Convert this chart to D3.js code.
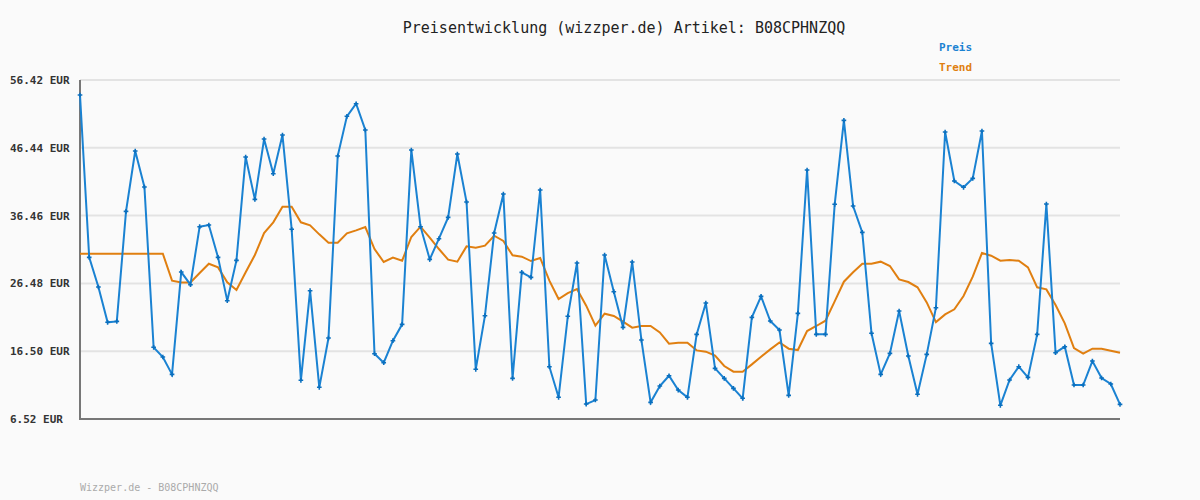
<!DOCTYPE html>
<html><head><meta charset="utf-8">
<script src="https://cdn.jsdelivr.net/npm/d3@7"></script>
<style>body{margin:0;background:#fafafa}text{font-family:"DejaVu Sans Mono",monospace}</style>
</head><body><svg id="c" width="1200" height="500"></svg>
<script>
const preis=[54.21,30.31,25.95,20.75,20.89,37.08,45.97,40.67,17.07,15.64,13.09,28.15,26.29,34.83,35.07,30.31,23.94,29.87,45.08,38.85,47.73,42.63,48.32,34.44,12.21,25.41,11.18,18.44,45.23,51.07,52.93,49.06,16.13,14.81,18.05,20.45,46.12,34.83,30.02,33.06,36.2,45.52,38.46,13.83,21.73,33.9,39.64,12.5,28.1,27.37,40.23,14.22,9.71,21.63,29.48,8.72,9.31,30.66,25.26,20.01,29.63,18.14,8.97,11.37,12.89,10.78,9.71,18.98,23.59,13.97,12.5,11.03,9.56,21.48,24.57,20.94,19.62,10.0,22.07,43.17,18.98,18.98,38.12,50.48,37.87,33.99,19.13,13.09,16.18,22.42,15.79,10.15,16.03,22.9,48.76,41.55,40.62,41.94,48.91,17.65,8.53,12.26,14.22,12.65,18.98,38.17,16.28,17.16,11.52,11.52,15.05,12.55,11.67,8.67];
const trend=[30.85,30.85,30.85,30.85,30.85,30.85,30.85,30.85,30.85,30.85,26.88,26.63,26.63,28.01,29.38,28.84,26.63,25.51,28.11,30.66,33.9,35.47,37.77,37.77,35.47,35.03,33.7,32.47,32.47,33.85,34.29,34.78,31.54,29.63,30.27,29.82,33.31,34.83,33.21,31.54,29.97,29.68,31.93,31.74,32.03,33.5,32.72,30.61,30.41,29.77,30.22,26.88,24.18,25.06,25.65,23.2,20.26,22.02,21.68,20.84,19.96,20.21,20.21,19.27,17.6,17.75,17.75,16.62,16.43,15.84,14.32,13.48,13.48,14.56,15.69,16.77,17.8,16.87,16.67,19.47,20.21,20.99,23.84,26.73,28.11,29.38,29.38,29.68,29.04,27.07,26.68,25.9,23.69,20.79,21.92,22.66,24.62,27.47,30.95,30.56,29.82,29.92,29.82,28.84,25.9,25.6,23.3,20.6,16.97,16.13,16.87,16.87,16.58,16.28];
const ticks=[6.52,16.50,26.48,36.46,46.44,56.42];
const tickLabels=["6.52 EUR","16.50 EUR","26.48 EUR","36.46 EUR","46.44 EUR","56.42 EUR"];
const svg=d3.select("#c");
const x=d3.scaleLinear().domain([0,preis.length-1]).range([80,1120]);
const y=d3.scaleLinear().domain([6.52,56.42]).range([419,80]);
svg.append("rect").attr("width",1200).attr("height",500).attr("fill","#fafafa");
const g=svg.append("g");
ticks.forEach((t,i)=>{
  g.append("line").attr("x1",80).attr("x2",1120).attr("y1",y(t)).attr("y2",y(t)).attr("stroke","#e3e3e3").attr("stroke-width",2);
  g.append("text").attr("x",10).attr("y",y(t)+4).attr("font-size",11).attr("font-weight","bold").attr("fill","#333").text(tickLabels[i]);
});
g.append("line").attr("x1",80).attr("x2",80).attr("y1",80).attr("y2",420).attr("stroke","#777").attr("stroke-width",2);
g.append("line").attr("x1",79).attr("x2",1120).attr("y1",419).attr("y2",419).attr("stroke","#777").attr("stroke-width",2);
const line=d3.line().x((d,i)=>x(i)).y(d=>y(d));
g.append("path").datum(trend).attr("d",line).attr("fill","none").attr("stroke","#e07f10").attr("stroke-width",2);
g.append("path").datum(preis).attr("d",line).attr("fill","none").attr("stroke","#1a82d2").attr("stroke-width",2);
g.selectAll(".m").data(preis).enter().append("path").attr("d",d3.symbol(d3.symbolCross,12)).attr("transform",(d,i)=>`translate(${x(i)},${y(d)})`).attr("fill","#0a6fbe");
svg.append("text").attr("x",624).attr("y",33).attr("text-anchor","middle").attr("font-size",15).attr("fill","#222").text("Preisentwicklung (wizzper.de) Artikel: B08CPHNZQQ");
svg.append("text").attr("x",939).attr("y",51).attr("font-size",11).attr("font-weight","bold").attr("fill","#1a82d2").text("Preis");
svg.append("text").attr("x",939).attr("y",71).attr("font-size",11).attr("font-weight","bold").attr("fill","#e07f10").text("Trend");
svg.append("text").attr("x",80).attr("y",491).attr("font-size",10).attr("fill","#aaa").text("Wizzper.de - B08CPHNZQQ");
</script></body></html>
